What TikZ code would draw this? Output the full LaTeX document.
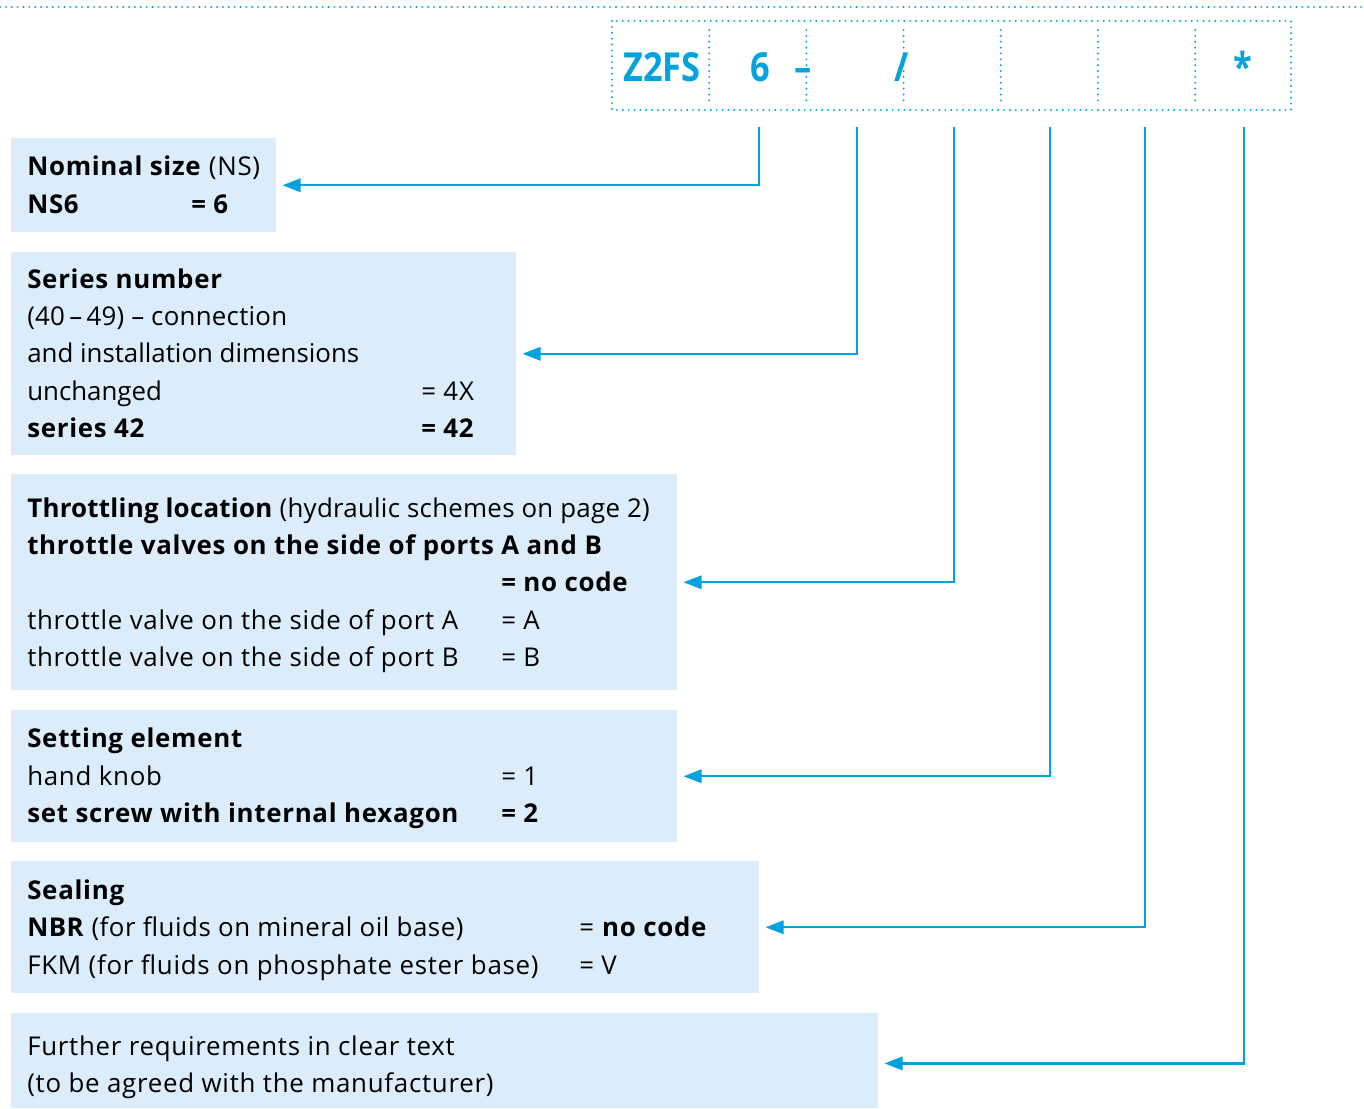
\documentclass[tikz,border=0pt]{standalone}
\usepackage{fontspec}
\setmainfont[LetterSpace=2.8]{Open Sans}
\newfontfamily\headfont[FakeStretch=0.86]{Open Sans}
\usetikzlibrary{arrows.meta}

\definecolor{codeblue}{RGB}{0,162,224}
\definecolor{boxblue}{RGB}{219,237,250}

\begin{document}
\begin{tikzpicture}[x=0.75pt,y=-0.75pt]
  % Local definitions
  \def\u{0.75pt}

  % Styles
  \tikzset{
    dotline/.style={draw=codeblue,line width=1.6pt,line cap=round,dash pattern=on 0pt off 4.4pt},
    codetext/.style={anchor=base,inner sep=0pt,text=codeblue,font=\headfont\bfseries\fontsize{30}{30}\selectfont},
    infobox/.style={fill=boxblue,anchor=north west,inner sep=0pt},
    infoline/.style={anchor=base west,inner sep=0pt,font=\fontsize{19.4}{23}\selectfont},
    tight/.style={font=\fontsize{19.4}{23}\selectfont\addfontfeature{LetterSpace=#1}},
    lead/.style={draw=codeblue,line width=1.8pt,shorten >=4.5pt,
      -{Triangle[length=13.5pt,width=10pt]}}
  }

  \useasboundingbox (0,0) rectangle (1364,1108);

  % The ordering code
  \draw[dotline] (0,7) -- (1364,7);
  \draw[dotline] (612,21) rectangle (1291,110);
  \foreach \i in {1,...,6}
    \draw[dotline] (612+97.2*\i,30) -- (612+97.2*\i,101);
  \foreach \i/\x in {2/759,3/857,4/954,5/1050,6/1145,7/1244}
    \coordinate (k\i) at (\x,127);

  \node[codetext] (type)  at (662,81) {Z2FS};
  \node[codetext] (ns)    at (760,81) {6};
  \node[codetext] (dash)  at (803,81) {–};
  \node[codetext] (slash) at (902,81) {/};
  \node[codetext] (star)  at (1243,81) {*};

  % The boxes
  \node[infobox,minimum width=265*\u,minimum height=94*\u]  (size)    at (11,138)  {};
  \node[infobox,minimum width=505*\u,minimum height=203*\u] (series)  at (11,252)  {};
  \node[infobox,minimum width=666*\u,minimum height=216*\u] (throttle) at (11,474) {};
  \node[infobox,minimum width=666*\u,minimum height=132*\u] (setting) at (11,710)  {};
  \node[infobox,minimum width=748*\u,minimum height=132*\u] (seal)    at (11,861)  {};
  \node[infobox,minimum width=867*\u,minimum height=95*\u]  (further) at (11,1013) {};

  % Texts
  \node[infoline] (size-a) at (27,175) {\textbf{Nominal size} (NS)};
  \node[infoline] (size-b) at (27,213) {\textbf{NS6}};
  \node[infoline] (size-c) at (191,213) {\textbf{= 6}};

  \node[infoline] (series-a) at (27,288) {\textbf{Series number}};
  \node[infoline,tight=1] (series-b) at (27,325) {(40\,–\,49) – connection};
  \node[infoline,tight=0] (series-c) at (27,362) {and installation dimensions};
  \node[infoline,tight=0] (series-d) at (27,400) {unchanged};
  \node[infoline] (series-e) at (421,400) {= 4X};
  \node[infoline] (series-f) at (27,437) {\textbf{series 42}};
  \node[infoline] (series-g) at (421,437) {\textbf{= 42}};

  \node[infoline,tight=1] (throttle-a) at (27,517) {\textbf{Throttling location} (hydraulic schemes on page 2)};
  \node[infoline] (throttle-b) at (27,554) {\textbf{throttle valves on the side of ports A and B}};
  \node[infoline] (throttle-c) at (501,591) {\textbf{= no code}};
  \node[infoline] (throttle-d) at (27,629) {throttle valve on the side of port A};
  \node[infoline] (throttle-e) at (501,629) {= A};
  \node[infoline] (throttle-f) at (27,666) {throttle valve on the side of port B};
  \node[infoline] (throttle-g) at (501,666) {= B};

  \node[infoline] (setting-a) at (27,747) {\textbf{Setting element}};
  \node[infoline] (setting-b) at (27,785) {hand knob};
  \node[infoline] (setting-c) at (501,785) {= 1};
  \node[infoline] (setting-d) at (27,822) {\textbf{set screw with internal hexagon}};
  \node[infoline] (setting-e) at (501,822) {\textbf{= 2}};

  \node[infoline] (seal-a) at (27,899) {\textbf{Sealing}};
  \node[infoline,tight=2] (seal-b) at (27,936) {\textbf{NBR} (for fluids on mineral oil base)};
  \node[infoline] (seal-c) at (579,936) {= \textbf{no code}};
  \node[infoline] (seal-d) at (27,974) {FKM (for fluids on phosphate ester base)};
  \node[infoline] (seal-e) at (579,974) {= V};

  \node[infoline] (further-a) at (27,1055) {Further requirements in clear text};
  \node[infoline] (further-b) at (27,1092) {(to be agreed with the manufacturer)};

  % The leads
  \draw[lead] (k2) |- (size);
  \draw[lead] (k3) |- (series);
  \draw[lead] (k4) |- (throttle);
  \draw[lead] (k5) |- (setting);
  \draw[lead] (k6) |- (seal);
  \draw[lead] (k7) |- ([yshift=-2pt]further.east);
\end{tikzpicture}
\end{document}
